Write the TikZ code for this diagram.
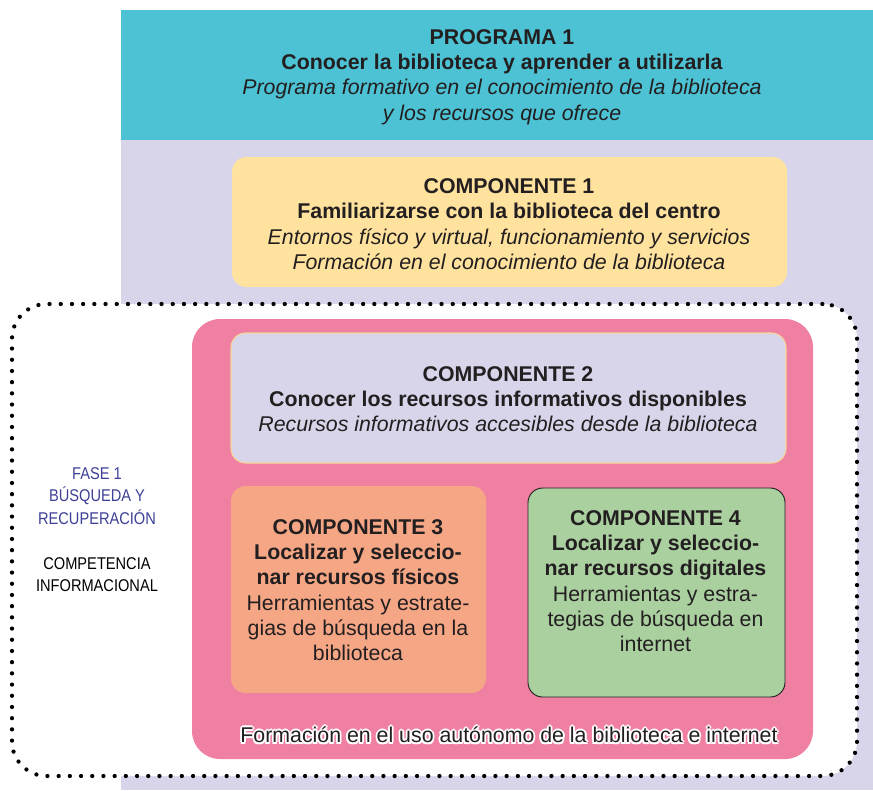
\documentclass[tikz,border=0pt]{standalone}
\usepackage{fontspec}
\setmainfont{Liberation Sans}
\newfontfamily\narrowfont{Liberation Sans}[FakeStretch=0.86]
\usepackage{tikz}

\definecolor{progteal}{RGB}{76,194,212}
\definecolor{lavback}{RGB}{216,213,234}
\definecolor{compyellow}{RGB}{254,226,157}
\definecolor{comppink}{RGB}{240,128,162}
\definecolor{compsalmon}{RGB}{245,166,133}
\definecolor{compgreen}{RGB}{170,208,160}
\definecolor{edgeyellow}{RGB}{246,214,150}
\definecolor{faseblue}{RGB}{62,64,152}
\definecolor{inkdark}{RGB}{35,31,32}

\begin{document}
\begin{tikzpicture}[x=0.75pt,y=-0.75pt,
    boxtext/.style={align=center, text=inkdark, font=\fontsize{16}{19}\selectfont},
    compbox/.style={rounded corners=11pt, inner sep=0pt}]
  \useasboundingbox (0,0) rectangle (873,790);

  % fondo y programa
  \fill[lavback] (121,10) rectangle (873,790);
  \fill[progteal] (121,10) rectangle (873,140);
  \node[boxtext] (prog) at (502,77)
    {\textbf{PROGRAMA 1}\\ \textbf{Conocer la biblioteca y aprender a utilizarla}\\
     \textit{Programa formativo en el conocimiento de la biblioteca}\\
     \textit{y los recursos que ofrece}};

  % componente 1
  \node[compbox, fill=compyellow, minimum width=416.25pt, minimum height=97.5pt] (comp1) at (509.5,222) {};
  \node[boxtext] (comp1txt) at (509,224)
    {\textbf{COMPONENTE 1}\\ \textbf{Familiarizarse con la biblioteca del centro}\\
     \textit{Entornos físico y virtual, funcionamiento y servicios}\\
     \textit{Formación en el conocimiento de la biblioteca}};

  % fase 1
  \node[draw=black, line width=3.2pt, dash pattern=on 0pt off 8.4pt, line cap=round,
        fill=white, rounded corners=26pt, minimum width=633.75pt, minimum height=354pt] (fase) at (434.5,540) {};
  \node[comppink, fill=comppink, rounded corners=21pt, minimum width=465.75pt, minimum height=330pt] (uso) at (502.5,539) {};

  \node[compbox, fill=lavback, draw=edgeyellow, line width=0.8pt, minimum width=416.25pt, minimum height=97.5pt] (comp2) at (508.5,398) {};
  \node[boxtext] (comp2txt) at (508,399)
    {\textbf{COMPONENTE 2}\\ \textbf{Conocer los recursos informativos disponibles}\\
     \textit{Recursos informativos accesibles desde la biblioteca}};

  \node[compbox, fill=compsalmon, minimum width=191.25pt, minimum height=155.25pt] (comp3) at (358.5,589.5) {};
  \node[boxtext] (comp3txt) at (358,590)
    {\textbf{COMPONENTE 3}\\ \textbf{Localizar y seleccio-}\\ \textbf{nar recursos físicos}\\
     Herramientas y estrate-\\ gias de búsqueda en la\\ biblioteca};

  \node[compbox, fill=compgreen, draw=inkdark, line width=0.7pt, minimum width=192.75pt, minimum height=156.75pt] (comp4) at (656.5,592.5) {};
  \node[boxtext] (comp4txt) at (655.5,581)
    {\textbf{COMPONENTE 4}\\ \textbf{Localizar y seleccio-}\\ \textbf{nar recursos digitales}\\
     Herramientas y estra-\\ tegias de búsqueda en\\ internet};

  % texto con contorno blanco
  \foreach \a in {0,45,...,315}
    \node[boxtext, text=white] (halo\a) at ([shift={(\a:1.4pt)}]509,735)
      {Formación en el uso autónomo de la biblioteca e internet};
  \node[boxtext] (usotxt) at (509,735)
    {Formación en el uso autónomo de la biblioteca e internet};

  % etiqueta lateral
  \node[align=center, font=\narrowfont\fontsize{12.75}{16.9}\selectfont] (fasetxt) at (97,529.5)
    {\textcolor{faseblue}{FASE 1}\\ \textcolor{faseblue}{BÚSQUEDA Y}\\ \textcolor{faseblue}{RECUPERACIÓN}\\[16.9pt]
     COMPETENCIA\\ INFORMACIONAL};
\end{tikzpicture}
\end{document}
